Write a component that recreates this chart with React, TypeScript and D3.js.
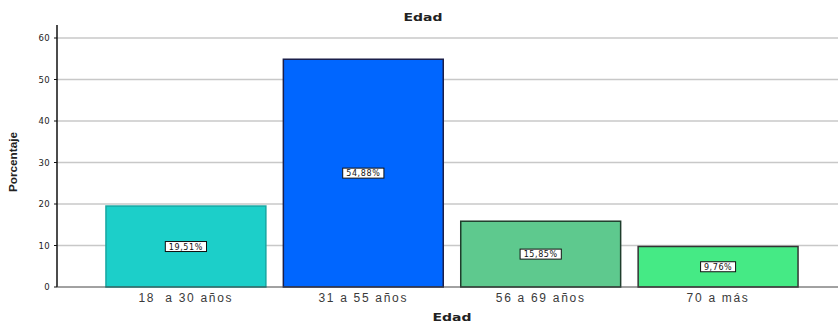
import React from "react";
import * as d3 from "d3";

const categories = ["18  a 30 años", "31 a 55 años", "56 a 69 años", "70 a más"];
const percentages = [19.51, 54.88, 15.85, 9.76];
const valueLabels = ["19,51%", "54,88%", "15,85%", "9,76%"];
const yTicks = [0, 10, 20, 30, 40, 50, 60];
const barFills = ["#1ccfc9", "#0066ff", "#5ec98e", "#45ea85"];
const barStrokes = ["#17a7a2", "#1b1f4a", "#1f3d2c", "#333333"];

const W = 838;
const H = 323;
const left = 57;
const top = 25;
const bottom = 287;
const font = "DejaVu Sans, Verdana, sans-serif";
const sans = "Liberation Sans, Arial, sans-serif";

export default function App() {
  const y = d3.scaleLinear().domain([0, 60]).range([bottom, bottom - 6 * 41.5]);
  const x = d3
    .scaleBand<string>()
    .domain(categories)
    .range([left, 847])
    .paddingInner(0.0986)
    .paddingOuter(0.276);

  return (
    <svg
      width={W}
      height={H}
      style={{ position: "absolute", left: 0, top: 0, background: "#fff" }}
      fontFamily={font}
    >
      <text
        x={423}
        y={21}
        textAnchor="middle"
        fontSize={11}
        fontWeight="bold"
        fill="#222"
        textLength={39}
        lengthAdjust="spacingAndGlyphs"
      >
        Edad
      </text>

      {yTicks.map((t) =>
        t > 0 ? (
          <line key={"g" + t} x1={left} x2={W} y1={y(t)} y2={y(t)} stroke="#c8c8c8" strokeWidth={1.5} />
        ) : null
      )}

      {categories.map((c, i) => {
        const bx = x(c)!;
        const bw = x.bandwidth();
        const by = y(percentages[i]);
        const mid = y(percentages[i] / 2);
        const cx = bx + bw / 2;
        const lw = valueLabels[i].length * 6.2 + 4;
        return (
          <g key={c}>
            <rect
              x={bx}
              y={by}
              width={bw}
              height={bottom - by}
              fill={barFills[i]}
              stroke={barStrokes[i]}
              strokeWidth={1.5}
            />
            <rect x={cx - lw / 2} y={mid - 5} width={lw} height={10} fill="#fff" stroke="#111" strokeWidth={1} />
            <text
              x={cx}
              y={mid + 3}
              textAnchor="middle"
              fontSize={8}
              fill="#111"
              letterSpacing={0.6}
            >
              {valueLabels[i]}
            </text>
            <text
              x={cx}
              y={302}
              textAnchor="middle"
              fontSize={12}
              fill="#3a3a3a"
              fontFamily={sans}
              letterSpacing={1.7}
              style={{ whiteSpace: "pre" }}
            >
              {c}
            </text>
          </g>
        );
      })}

      <line x1={left} x2={left} y1={top} y2={bottom} stroke="#111" strokeWidth={1.5} />
      <line x1={left} x2={W} y1={bottom} y2={bottom} stroke="#444" strokeWidth={1} />
      {yTicks.map((t) => (
        <g key={"t" + t}>
          <line x1={left - 3} x2={left} y1={y(t)} y2={y(t)} stroke="#111" strokeWidth={1} />
          <text x={50} y={y(t) + 3} textAnchor="end" fontSize={8.5} fill="#222" letterSpacing={0.4}>
            {t}
          </text>
        </g>
      ))}

      <text
        transform={`translate(17,162) rotate(-90)`}
        textAnchor="middle"
        fontSize={11}
        fontWeight="bold"
        fill="#222"
        fontFamily={sans}
        textLength={60}
        lengthAdjust="spacingAndGlyphs"
      >
        Porcentaje
      </text>
      <text
        x={452}
        y={320.5}
        textAnchor="middle"
        fontSize={11}
        fontWeight="bold"
        fill="#222"
        textLength={39}
        lengthAdjust="spacingAndGlyphs"
      >
        Edad
      </text>
    </svg>
  );
}
